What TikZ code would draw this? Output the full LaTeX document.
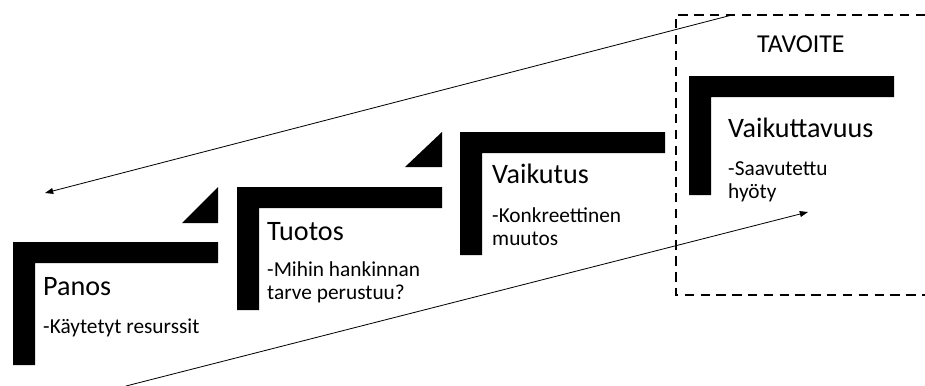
\documentclass[tikz,border=0pt]{standalone}
\usepackage{fontspec}
\setmainfont{Carlito}
\usetikzlibrary{arrows.meta}

\begin{document}
\begin{tikzpicture}[
    x=0.03cm, y=-0.03cm, >={Triangle[length=7pt,width=5pt]},
    bar/.style={fill=black},
    head/.style={anchor=base west, inner sep=0pt, font=\fontsize{24}{28}\selectfont},
    note/.style={anchor=base west, inner sep=0pt, align=left, font=\fontsize{18.2}{19}\selectfont},
    goal/.style={draw, line width=1.7pt, dash pattern=on 8pt off 5.5pt},
    trend/.style={->, line width=0.7pt},
  ]
  \useasboundingbox (0,0) rectangle (925,385);

  % steps: corner x / corner y / leg length
  \foreach \x/\y/\h in {13/242/123, 237/187/123, 460/132/123, 689/76/119}
    \fill[bar] (\x,\y) -- ++(205,0) -- ++(0,21) -- ++(-183,0) -- ++(0,\h-21) -- ++(-22,0) -- cycle;
  \fill[bar] (218,223) -- (218,187) -- (182,223) -- cycle;
  \fill[bar] (442,167) -- (442,132) -- (405,167) -- cycle;

  % notes sit on the baseline of their last line
  \node[head] (panos)        at (43,295)  {Panos};
  \node[note] (panosnote)    at (43,333)  {-Käytetyt resurssit};
  \node[head] (tuotos)       at (267,240) {Tuotos};
  \node[note] (tuotosnote)   at (267,299) {-Mihin hankinnan\\tarve perustuu?};
  \node[head] (vaikutus)     at (492,183) {Vaikutus};
  \node[note] (vaikutusnote) at (492,245) {-Konkreettinen\\muutos};
  \node[head] (vaikuttavuus) at (728,137) {Vaikuttavuus};
  \node[note] (vaikuttavuusnote) at (728,198) {-Saavutettu\\hyöty};
  \node[head, font=\fontsize{22}{26}\selectfont] (tavoite) at (757,52) {TAVOITE};

  % goal frame, open to the right
  \draw[goal] (925,15) -- (676,15) -- (676,295) -- (925,295);

  \coordinate (backstart)    at (732,15);
  \coordinate (backend)      at (45,193);
  \coordinate (forwardstart) at (126,386);
  \coordinate (forwardend)   at (808,212);
  \draw[trend] (backstart) -- (backend);
  \draw[trend] (forwardstart) -- (forwardend);
\end{tikzpicture}
\end{document}
